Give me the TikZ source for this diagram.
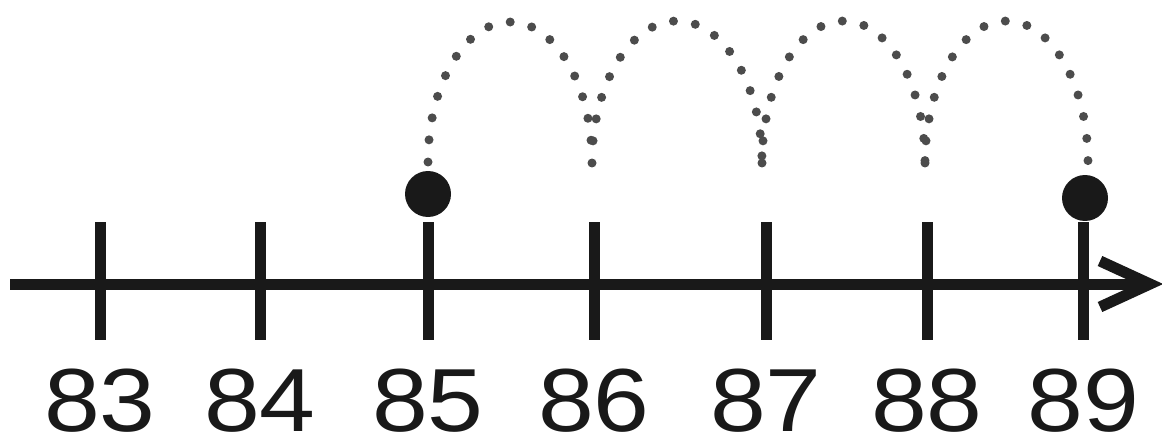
\documentclass[tikz,border=0pt]{standalone}
\usepackage{fontspec}
\setmainfont{Liberation Sans}
\begin{document}
\begin{tikzpicture}[x=0.02cm,y=-0.02cm,
  axis/.style={line width=0.22cm,draw=black!90},
  tickmark/.style={line width=0.22cm,draw=black!90},
  hop/.style={draw=black!70,line width=0.18cm,line cap=round,dash pattern=on 0pt off 0.444cm},
  bigdot/.style={circle,fill=black!90,inner sep=0pt,minimum size=0.92cm},
  numlabel/.style={font=\fontsize{51}{60}\selectfont,anchor=base,xscale=1.12,text=black!90,inner sep=0pt}]
\useasboundingbox (0,0) rectangle (1162,439);
% axis
\coordinate (start) at (10,284);
\coordinate (tip) at (1150,284);
\draw[axis] (start) -- (tip);
\draw[axis,line join=miter,line cap=butt] (1100,261) -- (tip) -- (1100,307);
% ticks and labels
\foreach \n/\x in {83/100,84/260,85/428,86/594,87/766,88/927,89/1083}{
  \coordinate (t\n) at (\x,284);
  \draw[tickmark] (\x,222) -- (\x,340);
  \node[numlabel] (l\n) at (\x,431) {\n};
}
% dots
\node[bigdot] (d85) at (428,194) {};
\node[bigdot] (d89) at (1085,198) {};
% hops
\coordinate (h85) at (428,162);
\coordinate (h86) at (592,163);
\coordinate (h87) at (762,163);
\coordinate (h88) at (925,163);
\coordinate (h89) at (1088,160);
\draw[hop] (h85) arc[start angle=180,end angle=360,x radius=82,y radius=140];
\draw[hop] (h86) arc[start angle=180,end angle=360,x radius=85,y radius=142];
\draw[hop] (h87) arc[start angle=180,end angle=360,x radius=81.5,y radius=142];
\draw[hop] (h88) arc[start angle=180,end angle=360,x radius=81.5,y radius=142];
\end{tikzpicture}
\end{document}
